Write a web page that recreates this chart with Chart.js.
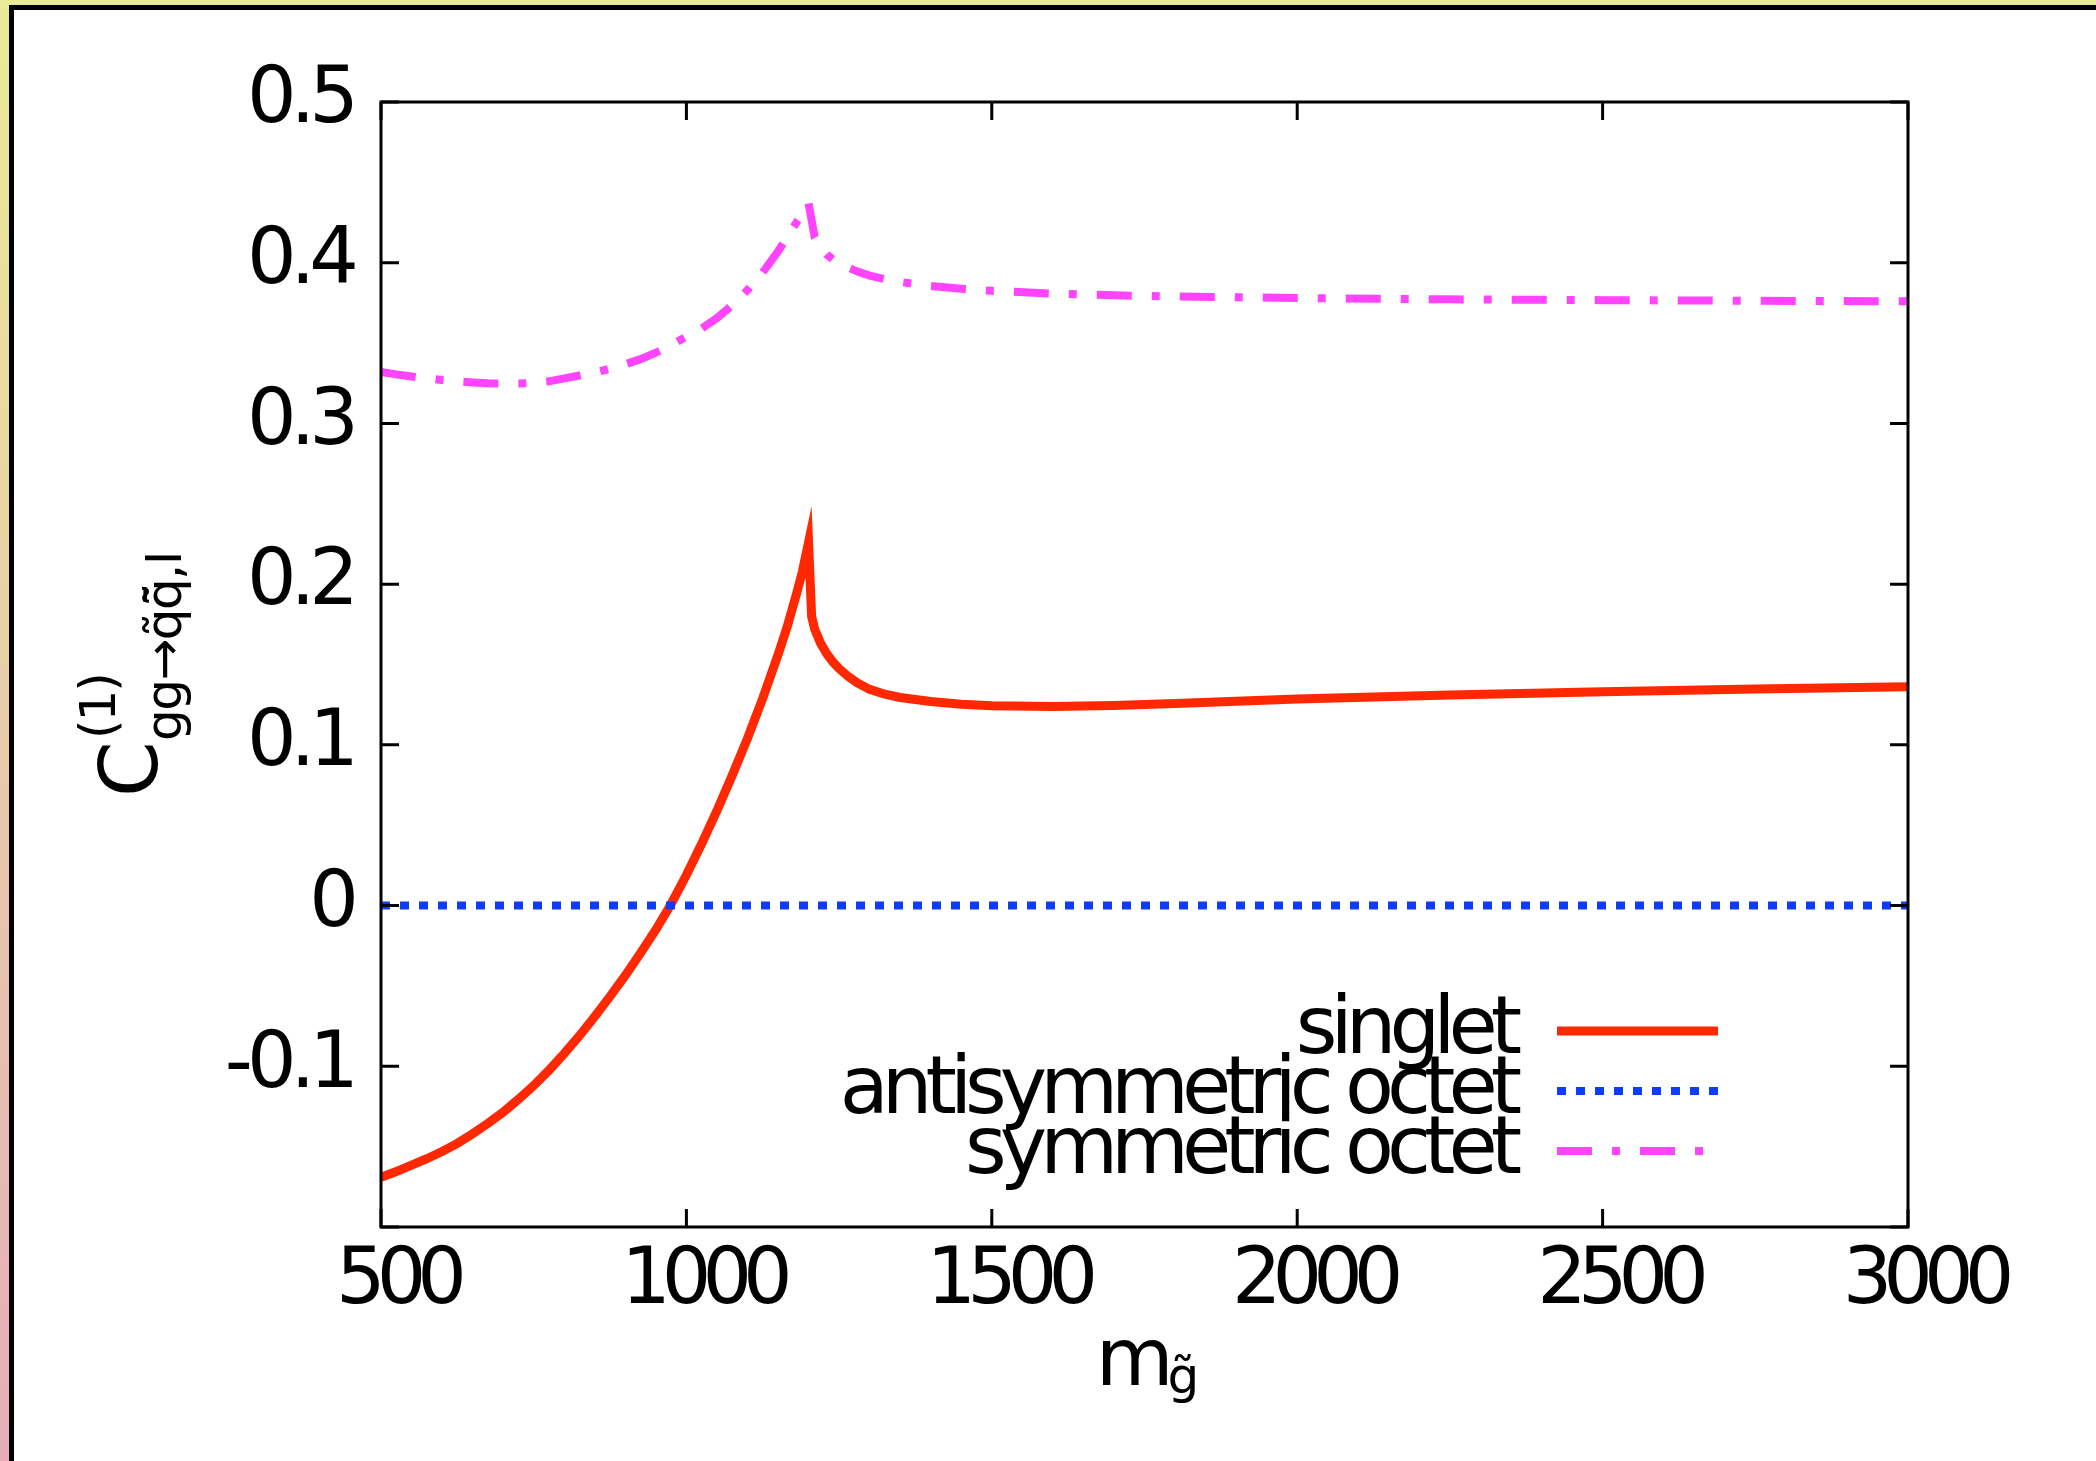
<!DOCTYPE html>
<html>
<head>
<meta charset="utf-8">
<script src="https://cdn.jsdelivr.net/npm/chart.js@4.4.1/dist/chart.umd.min.js"></script>
<style>
  html, body { margin: 0; padding: 0; }
  body {
    width: 2096px; height: 1461px; position: relative; overflow: hidden;
    background: linear-gradient(to bottom, #e9eb97, #e6adb9);
  }
  #frame {
    position: absolute; left: 9px; top: 5px; right: 0; bottom: 0;
    border-left: 5px solid #000; border-top: 5px solid #000; background: #fff;
  }
  #myChart { position: absolute; left: 0; top: 0; }
</style>
</head>
<body>
<div id="frame"></div>
<canvas id="myChart" width="2096" height="1461"></canvas>
<script>
/* globals Chart:false */

// gluino mass grid (x) and the curves
const masses = [500, 525, 550, 575, 600, 625, 650, 675, 700, 725,
  750, 775, 800, 825, 850, 875, 900, 925, 950, 975,
  1000, 1025, 1050, 1075, 1100, 1125, 1150, 1165, 1180, 1190,
  1200, 1205, 1210, 1220, 1230, 1240, 1250, 1265, 1280, 1300,
  1325, 1350, 1400, 1450, 1500, 1600, 1700, 1800, 2000, 2250,
  2500, 2750, 3000]

const singlet = [-0.169, -0.1655, -0.1615, -0.1575, -0.153, -0.148, -0.142, -0.1355, -0.1285, -0.1205,
  -0.112, -0.1025, -0.092, -0.081, -0.069, -0.0565, -0.0435, -0.0295, -0.015, 0.001,
  0.019, 0.0385, 0.059, 0.081, 0.104, 0.129, 0.156, 0.1735, 0.1935, 0.208,
  0.226, 0.180, 0.172, 0.163, 0.1565, 0.1515, 0.1475, 0.1425, 0.1385, 0.1345,
  0.1315, 0.1295, 0.127, 0.1253, 0.1243, 0.1238, 0.1245, 0.1258, 0.1285, 0.131,
  0.133, 0.1347, 0.1362]

const symOctet = [0.332, 0.3305, 0.3292, 0.328, 0.327, 0.3262, 0.3255, 0.325, 0.3248, 0.3248,
  0.3252, 0.3262, 0.328, 0.3298, 0.3318, 0.334, 0.3368, 0.340, 0.344, 0.3488,
  0.354, 0.359, 0.3655, 0.3735, 0.383, 0.394, 0.407, 0.416, 0.425, 0.431,
  0.437, 0.4265, 0.416, 0.4095, 0.405, 0.402, 0.3995, 0.397, 0.3945, 0.392,
  0.3898, 0.388, 0.3855, 0.3838, 0.3825, 0.3808, 0.3797, 0.379, 0.378, 0.3772,
  0.3767, 0.3763, 0.376]

const antiMasses = [500, 3000]
const antiOctet = [0, 0]

const xTicks = [500, 1000, 1500, 2000, 2500, 3000]
const yTickLabels = ['', '-0.1', '0', '0.1', '0.2', '0.3', '0.4', '0.5']

const FONT = 'DejaVu Sans'

const toPoints = (xs, ys) => xs.map((m, i) => ({ x: m, y: ys[i] }))

// draw a scale's tick labels with its own letter spacing
const withSpacing = (spacing) => (s) => {
  if (s._spaced) return
  s._spaced = true
  const orig = s.drawLabels
  s.drawLabels = function (area) {
    const prev = this.ctx.letterSpacing
    this.ctx.letterSpacing = spacing
    orig.call(this, area)
    this.ctx.letterSpacing = prev
  }
}

// gnuplot-style border, inward ticks, key and axis titles
const gnuplotFrame = {
  id: 'gnuplotFrame',
  afterDatasetsDraw(chart) {
    const { ctx, chartArea: a, scales: { x, y } } = chart
    ctx.save()
    ctx.strokeStyle = '#000'
    ctx.lineWidth = 3
    ctx.setLineDash([])
    ctx.beginPath()
    x.ticks.forEach(t => {
      const px = x.getPixelForValue(t.value)
      ctx.moveTo(px, a.bottom); ctx.lineTo(px, a.bottom - 18)
      ctx.moveTo(px, a.top); ctx.lineTo(px, a.top + 18)
    })
    y.ticks.forEach(t => {
      const py = y.getPixelForValue(t.value)
      ctx.moveTo(a.left, py); ctx.lineTo(a.left + 18, py)
      ctx.moveTo(a.right, py); ctx.lineTo(a.right - 18, py)
    })
    ctx.stroke()
    ctx.strokeRect(a.left, a.top, a.right - a.left, a.bottom - a.top)

    // key
    ctx.letterSpacing = '-7px'
    ctx.fillStyle = '#000'
    ctx.font = `80px "${FONT}"`
    ctx.textAlign = 'right'
    ctx.textBaseline = 'alphabetic'
    chart.data.datasets.forEach((ds, i) => {
      const ly = a.bottom - 196 + i * 60
      ctx.fillText(ds.label, a.right - 393, ly + 22)
      ctx.save()
      ctx.strokeStyle = ds.borderColor
      ctx.lineWidth = ds.borderWidth
      ctx.setLineDash(ds.borderDash || [])
      ctx.beginPath()
      ctx.moveTo(a.right - 351, ly)
      ctx.lineTo(a.right - 190, ly)
      ctx.stroke()
      ctx.restore()
    })

    // x title: m with subscript g~
    ctx.letterSpacing = '-6px'
    ctx.textAlign = 'left'
    ctx.font = `80px "${FONT}"`
    const wm = ctx.measureText('m').width
    ctx.font = `50px "${FONT}"`
    const wg = ctx.measureText('g\u0303').width
    const tx = (a.left + a.right) / 2 - (wm + wg) / 2
    ctx.font = `80px "${FONT}"`
    ctx.fillText('m', tx, a.bottom + 158)
    ctx.font = `50px "${FONT}"`
    ctx.fillText('g\u0303', tx + wm, a.bottom + 166)

    // y title, rotated
    ctx.translate(157, a.top + 695)
    ctx.rotate(-Math.PI / 2)
    ctx.font = `80px "${FONT}"`
    ctx.fillText('C', 0, 0)
    ctx.font = `50px "${FONT}"`
    ctx.letterSpacing = '-2px'
    ctx.fillText('(1)', 58, -42)
    ctx.letterSpacing = '-1.5px'
    ctx.fillText('gg\u2192q\u0303q\u0303\u0304,I', 56, 24)
    ctx.restore()
  }
}

const ctx = document.getElementById('myChart')
// eslint-disable-next-line no-unused-vars
const myChart = new Chart(ctx, {
  type: 'line',
  data: {
    datasets: [{
      label: 'singlet',
      data: toPoints(masses, singlet),
      borderColor: '#ff2800',
      borderWidth: 9,
      pointRadius: 0,
      tension: 0,
      order: 3
    }, {
      label: 'antisymmetric octet',
      data: toPoints(antiMasses, antiOctet),
      borderColor: '#0d3cff',
      borderWidth: 8,
      borderDash: [9, 10],
      pointRadius: 0,
      tension: 0,
      order: 2
    }, {
      label: 'symmetric octet',
      data: toPoints(masses, symOctet),
      borderColor: '#ff44ff',
      borderWidth: 8,
      borderDash: [35, 20, 8, 20],
      pointRadius: 0,
      tension: 0,
      order: 1
    }]
  },
  options: {
    responsive: false,
    animation: false,
    devicePixelRatio: 1,
    layout: { padding: { top: 102, right: 188, left: 0, bottom: 0 } },
    plugins: {
      legend: { display: false },
      tooltip: { enabled: false }
    },
    scales: {
      x: {
        type: 'linear',
        min: 500,
        max: 3000,
        afterBuildTicks: s => { s.ticks = xTicks.map(v => ({ value: v })) },
        afterFit: s => { s.height = 234 },
        afterUpdate: withSpacing('-9px'),
        grid: { display: false },
        border: { display: false },
        ticks: {
          color: '#000',
          font: { family: FONT, size: 78 },
          padding: 1,
          maxRotation: 0,
          autoSkip: false,
          labelOffset: 16,
          callback: v => String(v)
        }
      },
      y: {
        min: -0.2,
        max: 0.5,
        afterBuildTicks: s => { s.ticks = yTickLabels.map((l, i) => ({ value: -0.2 + i * 0.1 })) },
        afterFit: s => { s.width = 381 },
        afterUpdate: withSpacing('-6px'),
        grid: { display: false },
        border: { display: false },
        ticks: {
          color: '#000',
          font: { family: FONT, size: 78 },
          padding: 20,
          autoSkip: false,
          labelOffset: 0,
          callback: (v, i) => yTickLabels[i]
        }
      }
    }
  },
  plugins: [gnuplotFrame]
})
</script>
</body>
</html>
